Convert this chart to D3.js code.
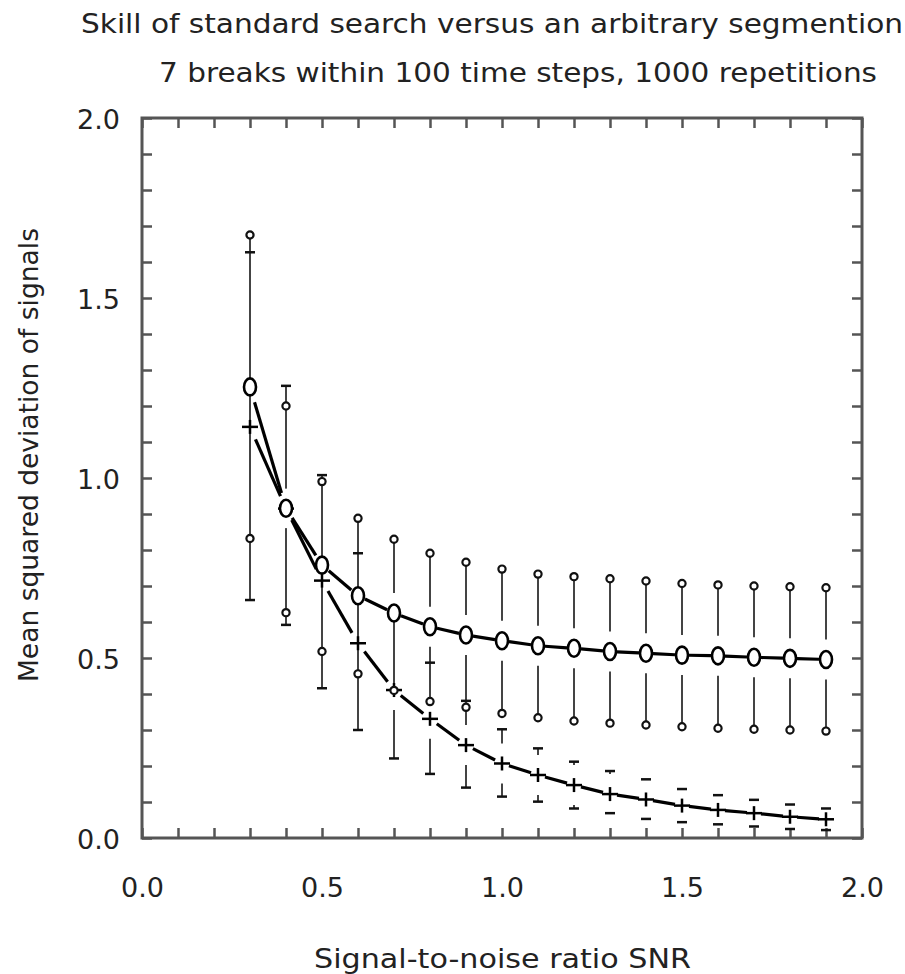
<!DOCTYPE html>
<html>
<head>
<meta charset="utf-8">
<script src="https://cdn.jsdelivr.net/npm/d3@7"></script>
<style>
  html, body { margin: 0; padding: 0; background: #fff; }
  svg { display: block; }
  text { font-family: "DejaVu Sans", sans-serif; fill: #222; }
</style>
</head>
<body>
<svg id="chart" width="905" height="974"></svg>
<script>
// ---------------- data ----------------
const snr = [0.3, 0.4, 0.5, 0.6, 0.7, 0.8, 0.9, 1.0, 1.1, 1.2, 1.3, 1.4, 1.5, 1.6, 1.7, 1.8, 1.9];

// arbitrary segmentation (open circles)
const arbMean  = [1.253, 0.916, 0.758, 0.673, 0.625, 0.587, 0.564, 0.548, 0.534, 0.527, 0.518, 0.513, 0.508, 0.506, 0.502, 0.499, 0.496];
const arbUpper = [1.675, 1.200, 0.990, 0.888, 0.830, 0.791, 0.766, 0.747, 0.733, 0.726, 0.720, 0.714, 0.707, 0.703, 0.700, 0.698, 0.695];
const arbLower = [0.832, 0.626, 0.518, 0.456, 0.410, 0.379, 0.363, 0.346, 0.334, 0.325, 0.319, 0.314, 0.309, 0.305, 0.302, 0.300, 0.297];

// standard search (crosses)
const stdMean  = [1.142, 0.915, 0.715, 0.541, 0.411, 0.331, 0.258, 0.207, 0.175, 0.147, 0.122, 0.107, 0.090, 0.078, 0.069, 0.059, 0.052];
const stdUpper = [1.627, 1.256, 1.008, 0.791, 0.620, 0.487, 0.381, 0.302, 0.249, 0.212, 0.186, 0.163, 0.136, 0.119, 0.106, 0.093, 0.082];
const stdLower = [0.661, 0.592, 0.416, 0.300, 0.221, 0.178, 0.140, 0.115, 0.101, 0.082, 0.069, 0.053, 0.044, 0.038, 0.032, 0.025, 0.022];

const minorTicks = d3.range(0, 21).map(i => i / 10);
const majorTicks = [0, 0.5, 1.0, 1.5, 2.0];

const titleLine1 = "Skill of standard search versus an arbitrary segmention";
const titleLine2 = "7 breaks within 100 time steps, 1000 repetitions";
const xTitle = "Signal-to-noise ratio SNR";
const yTitle = "Mean squared deviation of signals";

// ---------------- layout ----------------
const svg = d3.select("#chart");
const L = 142, R = 862, T = 118, B = 838;
const x = d3.scaleLinear().domain([0, 2]).range([L, R]);
const y = d3.scaleLinear().domain([0, 2]).range([B, T]);
const axisColor = "#555";

// titles
svg.append("text").attr("x", 81).attr("y", 33).attr("font-size", 26)
  .attr("textLength", 822).attr("lengthAdjust", "spacingAndGlyphs").text(titleLine1);
svg.append("text").attr("x", 159).attr("y", 82).attr("font-size", 26)
  .attr("textLength", 718).attr("lengthAdjust", "spacingAndGlyphs").text(titleLine2);
svg.append("text").attr("x", 314).attr("y", 968).attr("font-size", 26)
  .attr("textLength", 377).attr("lengthAdjust", "spacingAndGlyphs").text(xTitle);
svg.append("text").attr("transform", "translate(38,682) rotate(-90)").attr("font-size", 26)
  .attr("textLength", 454).attr("lengthAdjust", "spacingAndGlyphs").text(yTitle);

// frame
svg.append("rect").attr("x", L).attr("y", T).attr("width", R - L).attr("height", B - T)
  .attr("fill", "none").attr("stroke", axisColor).attr("stroke-width", 3);

function styleTicks(g) {
  g.select(".domain").remove();
  g.selectAll(".tick line").attr("stroke", axisColor).attr("stroke-width", 2.5);
}
// inward minor ticks on all four sides
svg.append("g").attr("transform", `translate(0,${B})`)
  .call(d3.axisBottom(x).tickValues(minorTicks).tickSize(-10).tickFormat("")).call(styleTicks);
svg.append("g").attr("transform", `translate(0,${T})`)
  .call(d3.axisTop(x).tickValues(minorTicks).tickSize(-10).tickFormat("")).call(styleTicks);
svg.append("g").attr("transform", `translate(${L},0)`)
  .call(d3.axisLeft(y).tickValues(minorTicks).tickSize(-10).tickFormat("")).call(styleTicks);
svg.append("g").attr("transform", `translate(${R},0)`)
  .call(d3.axisRight(y).tickValues(minorTicks).tickSize(-10).tickFormat("")).call(styleTicks);

// tick labels
const fmt = d3.format(".1f");
const xl = svg.append("g").attr("transform", `translate(0,${B})`)
  .call(d3.axisBottom(x).tickValues(majorTicks).tickSize(0).tickPadding(40).tickFormat(fmt));
xl.select(".domain").remove();
xl.selectAll("text").attr("font-size", 27).attr("font-family", "DejaVu Sans, sans-serif").attr("fill", "#222");
const yl = svg.append("g").attr("transform", `translate(${L},0)`)
  .call(d3.axisLeft(y).tickValues(majorTicks).tickSize(0).tickPadding(22).tickFormat(fmt));
yl.select(".domain").remove();
yl.selectAll("text").attr("font-size", 27).attr("font-family", "DejaVu Sans, sans-serif").attr("fill", "#222").attr("dy", "0.4em");

// ---------------- data marks ----------------
const GAP = 20;
function errorBars(mean, upper, lower, cls) {
  const g = svg.append("g").attr("class", cls);
  snr.forEach((s, i) => {
    const cx = x(s), cm = y(mean[i]), cu = y(upper[i]), cl = y(lower[i]);
    if (cm - GAP > cu) g.append("line").attr("x1", cx).attr("x2", cx).attr("y1", cu).attr("y2", cm - GAP)
      .attr("stroke", "#444").attr("stroke-width", 2);
    if (cm + GAP < cl) g.append("line").attr("x1", cx).attr("x2", cx).attr("y1", cm + GAP).attr("y2", cl)
      .attr("stroke", "#444").attr("stroke-width", 2);
  });
  return g;
}
errorBars(arbMean, arbUpper, arbLower, "arb-bars");
errorBars(stdMean, stdUpper, stdLower, "std-bars");

// connecting lines with gaps at the markers
function gappedLine(mean, cls) {
  const g = svg.append("g").attr("class", cls);
  const rx = 7, ry = 20;
  for (let i = 0; i < snr.length - 1; i++) {
    const x0 = x(snr[i]), y0 = y(mean[i]), x1 = x(snr[i + 1]), y1 = y(mean[i + 1]);
    const dx = x1 - x0, dy = y1 - y0, len = Math.hypot(dx, dy);
    const ux = dx / len, uy = dy / len;
    const t = 1 / Math.sqrt((ux / rx) ** 2 + (uy / ry) ** 2);
    if (len > 2 * t) {
      g.append("line")
        .attr("x1", x0 + ux * t).attr("y1", y0 + uy * t)
        .attr("x2", x1 - ux * t).attr("y2", y1 - uy * t)
        .attr("stroke", "#000").attr("stroke-width", 3.2).attr("stroke-linecap", "butt");
    }
  }
}
gappedLine(stdMean, "std-line");
gappedLine(arbMean, "arb-line");

// standard search: dashes at ends, crosses at mean
const stdG = svg.append("g").attr("class", "std-marks");
snr.forEach((s, i) => {
  const cx = x(s);
  [stdUpper[i], stdLower[i]].forEach(v => {
    stdG.append("line").attr("x1", cx - 5).attr("x2", cx + 5).attr("y1", y(v)).attr("y2", y(v))
      .attr("stroke", "#111").attr("stroke-width", 2.5);
  });
  const cy = y(stdMean[i]);
  stdG.append("line").attr("x1", cx - 8).attr("x2", cx + 8).attr("y1", cy).attr("y2", cy)
    .attr("stroke", "#000").attr("stroke-width", 2.5);
  stdG.append("line").attr("x1", cx).attr("x2", cx).attr("y1", cy - 7).attr("y2", cy + 7)
    .attr("stroke", "#000").attr("stroke-width", 2.5);
});

// arbitrary segmentation: small circles at ends, big O at mean
const arbG = svg.append("g").attr("class", "arb-marks");
snr.forEach((s, i) => {
  const cx = x(s);
  [arbUpper[i], arbLower[i]].forEach(v => {
    arbG.append("circle").attr("cx", cx).attr("cy", y(v)).attr("r", 3.6)
      .attr("fill", "#fff").attr("stroke", "#111").attr("stroke-width", 2.2);
  });
  arbG.append("ellipse").attr("cx", cx).attr("cy", y(arbMean[i])).attr("rx", 6).attr("ry", 8.5)
    .attr("fill", "#fff").attr("stroke", "#000").attr("stroke-width", 2.6);
});
</script>
</body>
</html>
